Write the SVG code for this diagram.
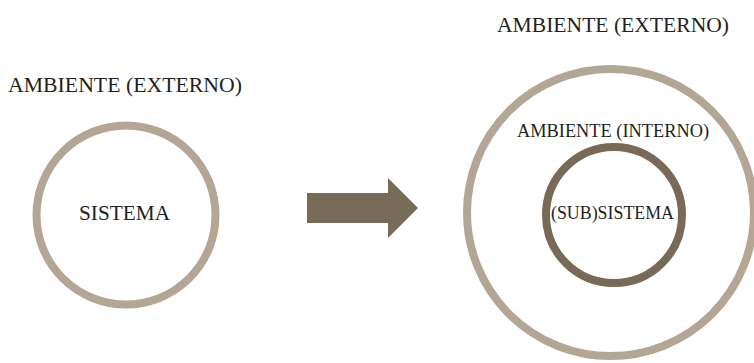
<svg xmlns="http://www.w3.org/2000/svg" width="754" height="363" viewBox="0 0 754 363">
<style>
.t{font-family:"Liberation Serif","Times New Roman",serif;fill:#231f20;font-size:21px}
.s{font-size:19px}
.light{fill:none;stroke:#b3a694;stroke-width:8}
.dark{fill:none;stroke:#786a56;stroke-width:8}
</style>
<rect width="754" height="363" fill="#ffffff"/>
<g id="ambiente-externo-left">
<text class="t" x="8" y="92" textLength="234" lengthAdjust="spacingAndGlyphs">AMBIENTE (EXTERNO)</text>
</g>
<g id="sistema">
<circle class="light" cx="126" cy="215" r="89.5"/>
<text class="t" x="79" y="220" textLength="91" lengthAdjust="spacingAndGlyphs">SISTEMA</text>
</g>
<g id="connectors">
<polygon points="307,193 388,193 388,178 418,208 388,238 388,223 307,223" fill="#786b58"/>
</g>
<g id="ambiente-externo-right">
<text class="t" x="497" y="32" textLength="232" lengthAdjust="spacingAndGlyphs">AMBIENTE (EXTERNO)</text>
<circle class="light" cx="610.5" cy="212.5" r="143.5"/>
</g>
<g id="ambiente-interno">
<text class="t s" x="517" y="137" textLength="192" lengthAdjust="spacingAndGlyphs">AMBIENTE (INTERNO)</text>
</g>
<g id="subsistema">
<circle class="dark" cx="614" cy="215" r="68"/>
<text class="t s" x="551" y="219" textLength="123" lengthAdjust="spacingAndGlyphs">(SUB)SISTEMA</text>
</g>
</svg>
